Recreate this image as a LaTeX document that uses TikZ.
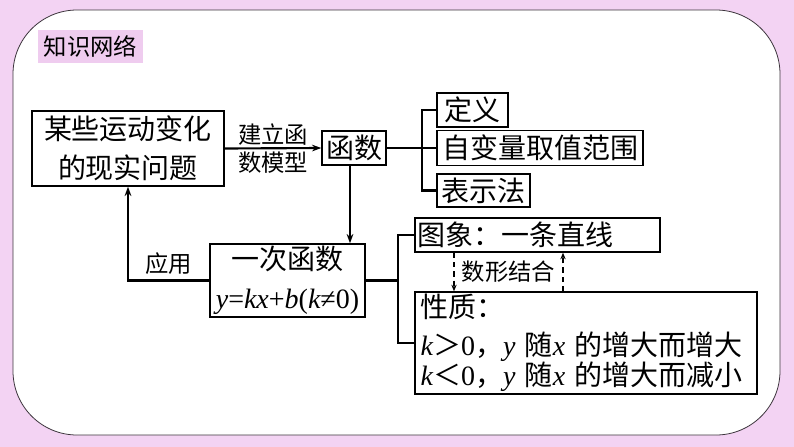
\documentclass[tikz,border=0pt]{standalone}
\usepackage{fontspec}
\setmainfont{Noto Sans CJK SC}
\newfontfamily\tnr{Liberation Serif}
\usepackage{tikz}
\usetikzlibrary{positioning, arrows.meta}
\usetikzlibrary{calc}

\definecolor{bgpink}{RGB}{243,211,243}
\definecolor{tagpink}{RGB}{239,204,239}
\newcommand{\mv}[1]{{\tnr\itshape #1}}
\newcommand{\bigtxt}{\fontsize{21}{29}\selectfont}
\newcommand{\smalltxt}{\fontsize{17.5}{21}\selectfont}

\begin{document}
\begin{tikzpicture}
    [
        x=0.75pt, y=-0.75pt,
        box/.style={draw, line width=1pt, inner sep=0pt, font=\bigtxt},
        conn/.style={line width=1.6pt},
        arr/.style={conn, -{Stealth[length=7pt,width=5pt]}},
        dasharr/.style={line width=1.1pt, dash pattern=on 4pt off 3pt, -{Stealth[length=5pt,width=4pt]}},
    ]
    \fill[bgpink] (0,0) rectangle (794,447);
    \useasboundingbox (0,0) rectangle (794,447);
    \draw[fill=white, draw=black!75!bgpink, line width=0.6pt, rounded corners=48pt] (13,10) rectangle (780,435);

    \node[fill=tagpink, minimum width=78.75pt, minimum height=24.75pt, inner sep=0pt, font=\smalltxt] (tag) at (90.5,46.5) {知识网络};

    \node[box, align=center, minimum width=144pt, minimum height=56.25pt] (prob) at (128,148.5) {某些运动变化\\的现实问题};
    \node[box, minimum width=48pt, minimum height=25.5pt] (fn) at (354,148) {函数};
    \node[box, minimum width=53.25pt, minimum height=25.5pt] (def) at (472.5,110) {定义};
    \node[box, minimum width=154.5pt, minimum height=26.25pt] (dom) at (540,148) {自变量取值范围};
    \node[box, minimum width=69.75pt, minimum height=24.75pt] (rep) at (483.5,190.5) {表示法};
    \node[box, align=center, minimum width=116.25pt, minimum height=54.75pt] (lin) at (287.5,280.5)
        {一次函数\\{\tnr\mv{y}=\mv{kx}+\mv{b}(\mv{k}≠0)}};
    \node[box, text width=180.75pt, inner xsep=1.5pt, align=left, minimum height=25.5pt] (pic) at (537.5,235) {图象：一条直线};
    \node[box, text width=248pt, inner xsep=4.25pt, align=left, minimum height=76.5pt, font=\fontsize{21}{23}\selectfont] (prop) at (586,343)
        {性质：\\[5pt]
         \mv{k}＞{\tnr 0}，\mv{y} 随\mv{x} 的增大而增大\\
         \mv{k}＜{\tnr 0}，\mv{y} 随\mv{x} 的增大而减小};

    \draw[arr] (prob.east) -- node[align=center, font=\smalltxt] (build) {建立函\\数模型} (fn.west);
    \draw[conn] (fn.east) -- ++(35,0) coordinate (fork1);
    \draw[conn] (fork1) |- (def.west);
    \draw[conn] (fork1) |- (rep.west);
    \draw[conn] (fork1) -- (dom.west);
    \draw[arr] ([xshift=-3pt]fn.south) -- ([xshift=-3pt]fn.south |- lin.north);
    \draw[arr] (lin.west) -| node[pos=0.25, above, font=\smalltxt] (use) {应用} (prob.south);
    \draw[conn] (lin.east) -- ++(32,0) coordinate (fork2);
    \draw[conn] (fork2) |- (pic.west);
    \draw[conn] (fork2) |- (prop.west);

    \coordinate (down) at (454,0);
    \coordinate (up) at (563,0);
    \draw[dasharr] (pic.south -| down) -- (prop.north -| down);
    \draw[dasharr] (prop.north -| up) -- (pic.south -| up);
    \node[font=\smalltxt] (link) at (508.5,272) {数形结合};
\end{tikzpicture}
\end{document}
